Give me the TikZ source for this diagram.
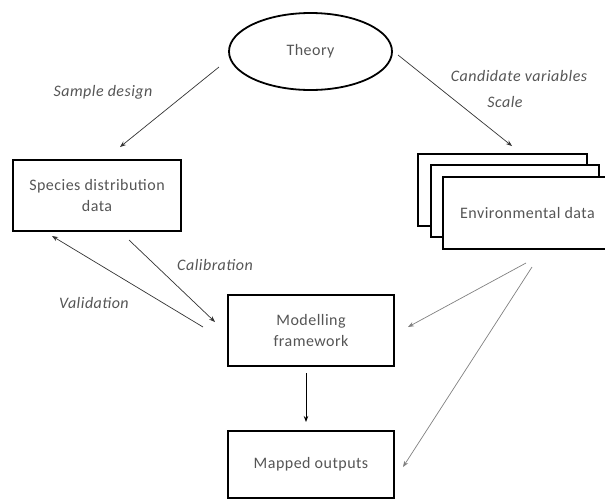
\documentclass[tikz,border=0pt]{standalone}
\usepackage{fontspec}
\setmainfont{Carlito}[LetterSpace=3]
\usetikzlibrary{shapes.geometric,arrows.meta}
\definecolor{txtgray}{HTML}{555555}
\definecolor{arrdark}{HTML}{333333}
\definecolor{arrlight}{HTML}{808080}
\begin{document}
\begin{tikzpicture}[x=1pt,y=-1pt,
  box/.style={draw, line width=2.1pt, rectangle, inner sep=0pt, align=center,
    text=txtgray, font=\fontsize{16}{20.5}\selectfont, fill=white},
  lab/.style={text=txtgray, font=\fontsize{16}{20}\selectfont\itshape, inner sep=0pt},
  arr/.style={-{Stealth[length=6pt,width=4.5pt]}, line width=0.7pt, draw=arrdark},
  arrl/.style={arr, draw=arrlight},
]
\useasboundingbox (0,0) rectangle (605,499);
% nodes
\node[draw, ellipse, line width=1.8pt, minimum width=163pt, minimum height=77pt,
  text=txtgray, font=\fontsize{16}{20}\selectfont] (theory) at (310.5,51.5) {Theory};
\node[box, minimum width=168pt, minimum height=71pt] (species) at (97,195.5)
  {Species distribution\\data};
\node[box, minimum width=169pt, minimum height=72pt] (envback) at (502.5,190) {};
\node[box, minimum width=168pt, minimum height=72pt] (envmid) at (515,201) {};
\node[box, minimum width=169pt, minimum height=72pt] (env) at (527.5,213) {Environmental data};
\node[box, minimum width=166pt, minimum height=71pt] (model) at (311,330.5)
  {Modelling\\framework};
\node[box, minimum width=166pt, minimum height=67pt] (mapped) at (311,464.5)
  {Mapped outputs};
% labels
\node[lab] (lsd) at (103,92) {Sample design};
\node[lab] (lcv) at (519,76) {Candidate variables};
\node[lab] (lsc) at (505,102) {Scale};
\node[lab] (lcal) at (215,265) {Calibration};
\node[lab] (lval) at (94,303) {Validation};
% connector ends
\coordinate (sdA) at (219,67);
\coordinate (sdB) at (120,147);
\coordinate (cvA) at (398,55);
\coordinate (cvB) at (512,146);
\coordinate (calA) at (129,240);
\coordinate (calB) at (215,322);
\coordinate (valA) at (203,327);
\coordinate (valB) at (52,236);
\coordinate (emA) at (526,263);
\coordinate (emB) at (408,327);
\coordinate (eoA) at (532,267);
\coordinate (eoB) at (403,467);
\coordinate (moA) at (306,373);
\coordinate (moB) at (306,422);
% connectors
\draw[arr] (sdA) -- (sdB);
\draw[arr] (cvA) -- (cvB);
\draw[arr] (calA) -- (calB);
\draw[arr] (valA) -- (valB);
\draw[arrl] (emA) -- (emB);
\draw[arrl] (eoA) -- (eoB);
\draw[arr, draw=black, line width=1pt] (moA) -- (moB);
\end{tikzpicture}
\end{document}
